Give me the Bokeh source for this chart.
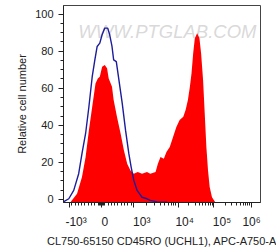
import math
from bokeh.plotting import figure
from bokeh.models import Range1d, FixedTicker
from bokeh.core.properties import value
from bokeh.embed import file_html
from bokeh.resources import INLINE

# x values are in display (biexponential) units: -10^3 -> -1, 0 -> 0, 10^3 -> 1 ...
xtick_pos = [-0.97, 0.0, 0.97, 2.32, 3.40, 4.55]
xtick_labels = ["-10³", "0", "10³", "10⁴", "10⁵", "10⁶"]
# the original's labels sit a little to the right of their ticks
xtick_pad = [4, 2, 5, 4, 5, 0]
ytick_pos = [0, 20, 40, 60, 80, 100]

# CD45RO stained sample (red filled histogram)
red_x = [-0.94, -0.74, -0.59, -0.48, -0.38, -0.28, -0.18, -0.11, -0.05, 0.02, 0.10, 0.17,
         0.22, 0.32, 0.37, 0.47, 0.58, 0.68, 0.78, 0.88, 0.98, 1.10, 1.23, 1.38, 1.48,
         1.64, 1.71, 1.79, 1.89, 1.97, 2.07, 2.17, 2.27, 2.37, 2.48, 2.55, 2.62, 2.68,
         2.73, 2.78, 2.83, 2.90, 2.97, 3.02, 3.08, 3.13, 3.18, 3.23, 3.28, 3.35, 3.45]
red_y = [-1.5, 3.1, 12.1, 22.9, 37.4, 50.0, 62.6, 65.3, 66.2, 71.6, 72.5, 70.8,
         65.3, 60.8, 53.6, 44.6, 35.6, 26.5, 19.3, 15.7, 13.9, 14.8, 13.9, 14.8, 13.9,
         14.8, 19.3, 22.9, 22.0, 25.6, 28.3, 33.7, 39.1, 42.8, 44.6, 48.2, 53.6, 60.8,
         68.1, 78.9, 87.0, 89.7, 87.0, 78.9, 64.4, 46.4, 28.3, 15.7, 6.7, 1.2, -1.5]

# isotype control (blue line)
blue_x = [-1.19, -1.14, -0.99, -0.84, -0.69, -0.59, -0.48, -0.38, -0.28, -0.20, -0.13,
          -0.05, 0.02, 0.10, 0.19, 0.25, 0.32, 0.37, 0.45, 0.53, 0.63, 0.73, 0.83, 0.90,
          0.98, 1.08, 1.23, 1.38, 1.48, 1.69, 1.99]
blue_y = [-1.5, -1.2, 0.4, 4.9, 13.9, 24.7, 35.6, 50.0, 66.2, 75.3, 82.5,
          84.3, 88.8, 92.4, 92.4, 88.8, 82.5, 75.3, 74.3, 64.4, 51.8, 37.4, 24.7, 17.5,
          10.3, 4.9, 1.2, 0.4, -0.5, -1.3, -1.5]

watermark = "WWW.PTGLAB.COM"
x_title = "CL750-65150 CD45RO (UCHL1), APC-A750-A"
y_title = "Relative cell number"

# minor ticks: linear region near zero, log between decades
x_minor = [k / 10 for k in range(-9, 10) if k != 0] + [-0.06, -0.03, 0.03, 0.06]
for a, b in zip(xtick_pos[2:-1], xtick_pos[3:]):
    x_minor += [a + (b - a) * math.log10(k) for k in range(2, 10)]
y_minor = [v for v in range(0, 101, 5) if v % 20]

FONT = "Liberation Sans"
p = figure(width=276, height=251, output_backend="svg", toolbar_location=None,
           x_range=Range1d(-1.15, 4.82), y_range=Range1d(-1.62, 104.6),
           min_border_left=63, min_border_right=16, min_border_top=5, min_border_bottom=49)
p.grid.visible = False
p.background_fill_color = "white"
p.outline_line_color = "#444444"
p.outline_line_width = 1

p.text(x=[-0.70], y=[90.6], text=[watermark], text_font=value(FONT), text_font_size="18.5px",
       text_font_style="italic", text_color="#cfcfcf", text_alpha=0.8,
       text_baseline="alphabetic", text_align="left")

p.varea(x=red_x, y1=-1.62, y2=red_y, fill_color="#ff0000")
p.line(blue_x, blue_y, line_color="#1c1c9c", line_width=1.4)

xa = p.xaxis[0]
xa.ticker = FixedTicker(ticks=xtick_pos, minor_ticks=x_minor)
xa.major_label_overrides = {t: "\u00a0" * n + l for t, l, n in zip(xtick_pos, xtick_labels, xtick_pad)}
ya = p.yaxis[0]
ya.ticker = FixedTicker(ticks=ytick_pos, minor_ticks=y_minor)

for ax in (xa, ya):
    ax.axis_line_color = "#222222"
    ax.major_tick_line_color = "#222222"
    ax.minor_tick_line_color = "#222222"
    ax.major_tick_in = 0
    ax.major_tick_out = 5
    ax.minor_tick_in = 0
    ax.minor_tick_out = 3
    ax.major_label_text_font = FONT
    ax.major_label_text_color = "#222222"
    ax.axis_label_text_font = FONT
    ax.axis_label_text_font_style = "normal"
    ax.axis_label_text_font_size = "11px"
    ax.axis_label_text_color = "#222222"

xa.major_label_text_font_size = "12px"
xa.major_label_standoff = 7
xa.axis_label = x_title
xa.axis_label_standoff = 3
ya.major_label_text_font_size = "11px"
ya.major_label_standoff = 5
ya.axis_label = y_title
ya.axis_label_standoff = 4

open("out.html", "w").write(file_html(p, INLINE))
